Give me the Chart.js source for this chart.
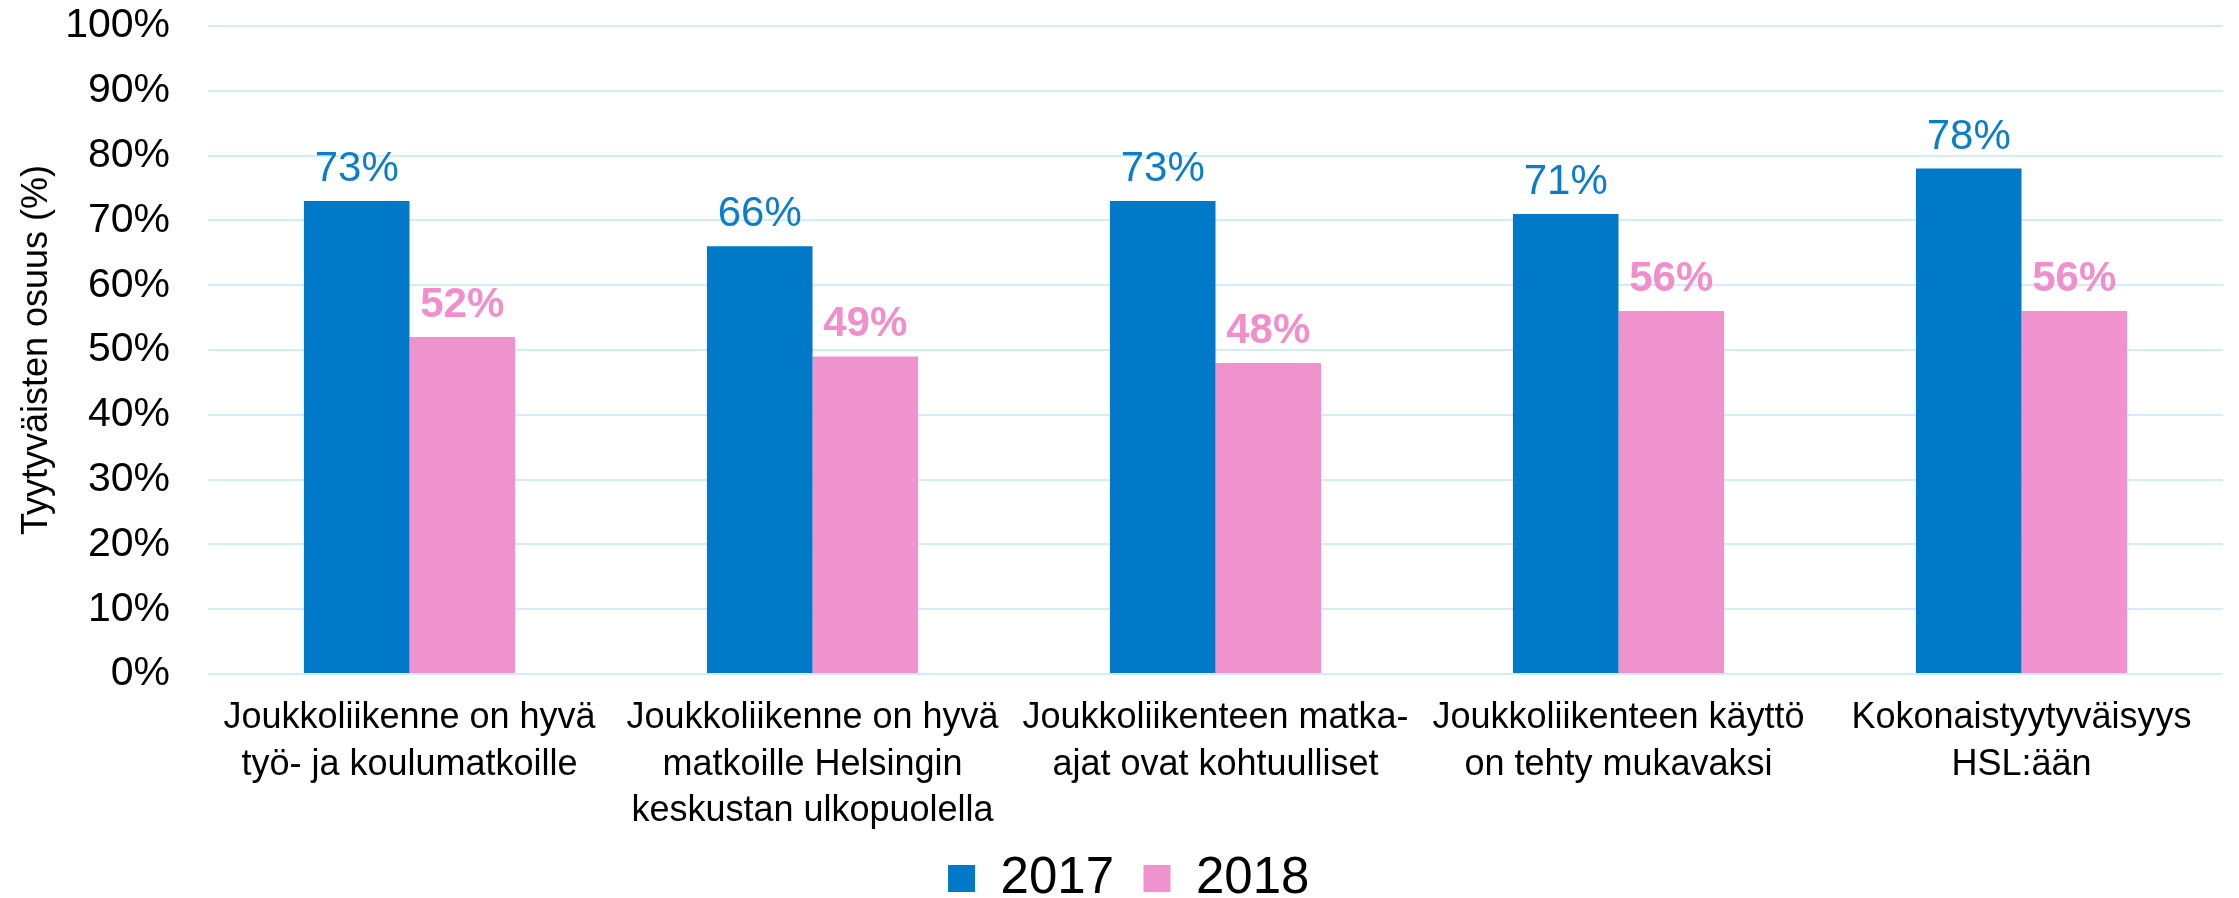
<!DOCTYPE html>
<html>
<head>
<meta charset="utf-8">
<title>Tyytyväisten osuus</title>
<script src="https://cdn.jsdelivr.net/npm/chart.js@4.4.1/dist/chart.umd.min.js"></script>
<style>
  html, body { margin: 0; padding: 0; background: #fff; }
  #wrap { width: 2239px; height: 898px; }
</style>
</head>
<body>
<div id="wrap"><canvas id="chart" width="2239" height="898"></canvas></div>
<script>
// Data
const categories = [
    ["Joukkoliikenne on hyvä", "työ- ja koulumatkoille"],
    ["Joukkoliikenne on hyvä", "matkoille Helsingin", "keskustan ulkopuolella"],
    ["Joukkoliikenteen matka-", "ajat ovat kohtuulliset"],
    ["Joukkoliikenteen käyttö", "on tehty mukavaksi"],
    ["Kokonaistyytyväisyys", "HSL:ään"]
];
const values2017 = [73, 66, 73, 71, 78];
const values2018 = [52, 49, 48, 56, 56];
const yTicks = [0, 10, 20, 30, 40, 50, 60, 70, 80, 90, 100];
const yTitle = "Tyytyväisten osuus (%)";

// Colours
const blue = "#0079C8";
const pink = "#F092CD";

Chart.defaults.font.family = "'Liberation Sans', Arial, sans-serif";
Chart.defaults.color = "#000";

// Draw the value above each bar
const barLabels = {
    id: "barLabels",
    afterDatasetsDraw(chart) {
        const ctx = chart.ctx;
        chart.data.datasets.forEach((ds, i) => {
            const meta = chart.getDatasetMeta(i);
            ctx.save();
            ctx.font = ds.labelFont;
            ctx.fillStyle = ds.labelColor;
            ctx.textAlign = "center";
            ctx.textBaseline = "alphabetic";
            meta.data.forEach((bar, j) => {
                ctx.fillText(ds.data[j] + "%", bar.x, bar.y - 20);
            });
            ctx.restore();
        });
    }
};

// Nudge the legend a little to the right, like in the original
const legendShift = {
    id: "legendShift",
    afterLayout(chart) {
        if (chart.legend) chart.legend.left += 60;
    }
};

const ctx = document.getElementById("chart").getContext("2d");
const chart = new Chart(ctx, {
    type: "bar",
    data: {
        labels: categories,
        datasets: [{
            label: "2017",
            data: values2017,
            backgroundColor: blue,
            labelColor: "#0A7DCB",
            labelFont: "42px 'Liberation Sans', Arial, sans-serif"
        }, {
            label: "2018",
            data: values2018,
            backgroundColor: pink,
            labelColor: "#F08FCB",
            labelFont: "bold 42px 'Liberation Sans', Arial, sans-serif"
        }]
    },
    options: {
        responsive: false,
        devicePixelRatio: 1,
        animation: false,
        datasets: {
            bar: { categoryPercentage: 0.524, barPercentage: 1.0 }
        },
        layout: { padding: { top: 26, right: 16, bottom: -16, left: 0 } },
        plugins: {
            tooltip: { enabled: false },
            legend: {
                position: "bottom",
                labels: {
                    boxWidth: 27,
                    boxHeight: 27,
                    padding: 4,
                    color: "#000",
                    font: { size: 51 },
                    // en space after the year keeps the items apart
                    generateLabels(chart) {
                        const items = Chart.defaults.plugins.legend.labels.generateLabels(chart);
                        items.forEach(item => { item.text = item.text + "\u2002"; });
                        return items;
                    }
                }
            }
        },
        scales: {
            x: {
                grid: { display: false, drawTicks: false },
                border: { display: false },
                ticks: {
                    autoSkip: false,
                    maxRotation: 0,
                    minRotation: 0,
                    padding: 21,
                    color: "#000",
                    font: { size: 36, lineHeight: 1.29 }
                },
                afterFit(scale) { scale.height = 175; }
            },
            y: {
                min: 0,
                max: 100,
                afterBuildTicks(scale) {
                    scale.ticks = yTicks.map(v => ({ value: v }));
                },
                grid: { color: "#D6EBFA", lineWidth: 2, drawTicks: false },
                border: { display: false },
                ticks: {
                    padding: 38,
                    color: "#000",
                    font: { size: 41 },
                    callback: v => v + "%"
                },
                title: {
                    display: true,
                    text: yTitle,
                    color: "#000",
                    font: { size: 36 },
                    padding: { top: 15, bottom: 0 }
                },
                afterFit(scale) {
                    scale.width = 208;
                    scale.paddingTop = 0;
                    scale.paddingBottom = 0;
                }
            }
        }
    },
    plugins: [barLabels, legendShift]
});
</script>
</body>
</html>
